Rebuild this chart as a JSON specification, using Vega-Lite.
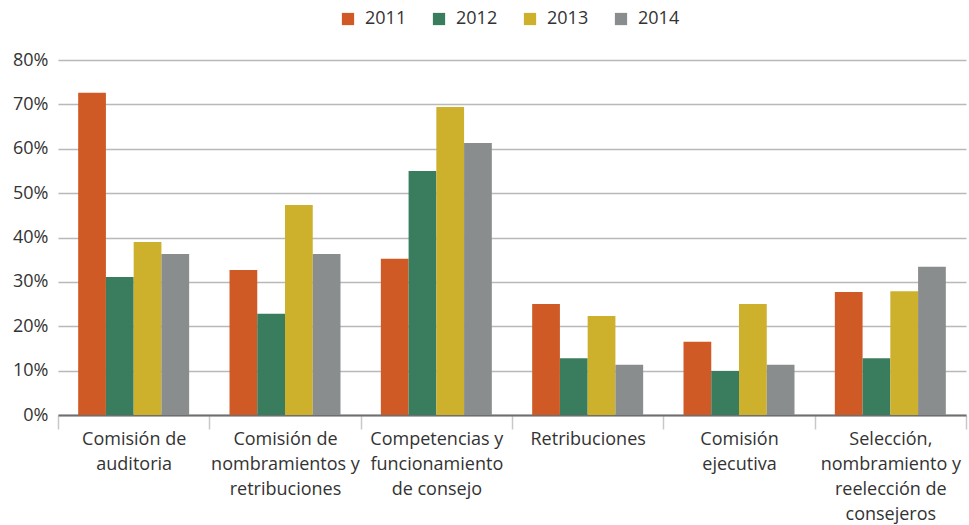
{
  "$schema": "https://vega.github.io/schema/vega-lite/v6.json",
  "autosize": {"type": "none"},
  "padding": {"left": 58, "top": 60, "right": 3, "bottom": 110},
  "width": 908,
  "height": 355,
  "background": "white",
  "data": {
    "values": [
      {"categoria": "Comisión de auditoria", "año": "2011", "valor": 0.726},
      {"categoria": "Comisión de auditoria", "año": "2012", "valor": 0.311},
      {"categoria": "Comisión de auditoria", "año": "2013", "valor": 0.390},
      {"categoria": "Comisión de auditoria", "año": "2014", "valor": 0.363},
      {"categoria": "Comisión de nombramientos y retribuciones", "año": "2011", "valor": 0.327},
      {"categoria": "Comisión de nombramientos y retribuciones", "año": "2012", "valor": 0.228},
      {"categoria": "Comisión de nombramientos y retribuciones", "año": "2013", "valor": 0.473},
      {"categoria": "Comisión de nombramientos y retribuciones", "año": "2014", "valor": 0.363},
      {"categoria": "Competencias y funcionamiento de consejo", "año": "2011", "valor": 0.352},
      {"categoria": "Competencias y funcionamiento de consejo", "año": "2012", "valor": 0.550},
      {"categoria": "Competencias y funcionamiento de consejo", "año": "2013", "valor": 0.694},
      {"categoria": "Competencias y funcionamiento de consejo", "año": "2014", "valor": 0.613},
      {"categoria": "Retribuciones", "año": "2011", "valor": 0.250},
      {"categoria": "Retribuciones", "año": "2012", "valor": 0.128},
      {"categoria": "Retribuciones", "año": "2013", "valor": 0.223},
      {"categoria": "Retribuciones", "año": "2014", "valor": 0.113},
      {"categoria": "Comisión ejecutiva", "año": "2011", "valor": 0.165},
      {"categoria": "Comisión ejecutiva", "año": "2012", "valor": 0.099},
      {"categoria": "Comisión ejecutiva", "año": "2013", "valor": 0.250},
      {"categoria": "Comisión ejecutiva", "año": "2014", "valor": 0.113},
      {"categoria": "Selección, nombramiento y reelección de consejeros", "año": "2011", "valor": 0.277},
      {"categoria": "Selección, nombramiento y reelección de consejeros", "año": "2012", "valor": 0.128},
      {"categoria": "Selección, nombramiento y reelección de consejeros", "año": "2013", "valor": 0.279},
      {"categoria": "Selección, nombramiento y reelección de consejeros", "año": "2014", "valor": 0.334}
    ]
  },
  "mark": {"type": "bar"},
  "encoding": {
    "x": {
      "field": "categoria",
      "type": "nominal",
      "sort": null,
      "scale": {"paddingInner": 0, "paddingOuter": 0},
      "axis": {
        "title": null,
        "labelAngle": 0,
        "tickBand": "extent",
        "domainColor": "#6f6f6f",
        "domainWidth": 2,
        "tickColor": "#c8c8c8",
        "tickWidth": 1.5,
        "tickSize": 14,
        "labelPadding": 1,
        "labelFont": "Open Sans",
        "labelFontSize": 18,
        "labelColor": "#333333",
        "labelLineHeight": 25,
        "labelBaseline": "top",
        "labelLimit": 0,
        "labelExpr": "datum.value == 'Comisión de auditoria' ? ['Comisión de', 'auditoria'] : datum.value == 'Comisión de nombramientos y retribuciones' ? ['Comisión de', 'nombramientos y', 'retribuciones'] : datum.value == 'Competencias y funcionamiento de consejo' ? ['Competencias y', 'funcionamiento', 'de consejo'] : datum.value == 'Comisión ejecutiva' ? ['Comisión', 'ejecutiva'] : datum.value == 'Selección, nombramiento y reelección de consejeros' ? ['Selección,', 'nombramiento y', 'reelección de', 'consejeros'] : datum.value"
      }
    },
    "xOffset": {
      "field": "año",
      "type": "nominal",
      "scale": {"paddingInner": 0, "paddingOuter": 0.727}
    },
    "y": {
      "field": "valor",
      "type": "quantitative",
      "scale": {"domain": [0, 0.8]},
      "axis": {
        "title": null,
        "format": ".0%",
        "values": [0, 0.1, 0.2, 0.3, 0.4, 0.5, 0.6, 0.7, 0.8],
        "labelOverlap": false,
        "domain": false,
        "ticks": false,
        "gridColor": "#b9b9b9",
        "gridWidth": 1.5,
        "labelPadding": 10,
        "labelFont": "Open Sans",
        "labelFontSize": 18,
        "labelColor": "#333333"
      }
    },
    "color": {
      "field": "año",
      "type": "nominal",
      "scale": {
        "domain": ["2011", "2012", "2013", "2014"],
        "range": ["#d05a26", "#3a7d5e", "#cdb02c", "#8a8d8e"]
      },
      "legend": {
        "title": null,
        "orient": "none",
        "direction": "horizontal",
        "legendX": 281,
        "legendY": -50,
        "symbolType": "square",
        "symbolSize": 150,
        "symbolStrokeWidth": 0,
        "symbolOpacity": 1,
        "labelFont": "Open Sans",
        "labelFontSize": 18,
        "labelColor": "#333333",
        "labelOffset": 8,
        "columnPadding": 23
      }
    }
  },
  "config": {"view": {"stroke": null}}
}
